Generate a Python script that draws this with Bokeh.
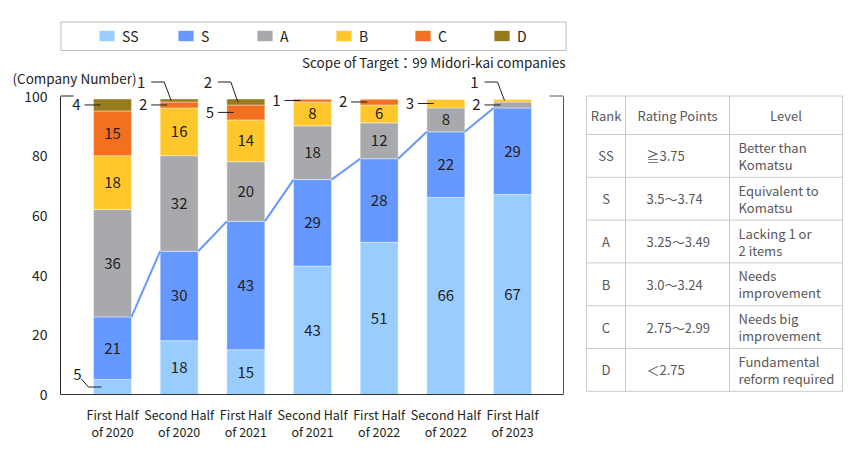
from bokeh.plotting import figure
from bokeh.models import (ColumnDataSource, Range1d, LinearAxis, FixedTicker,
                          Legend, LegendItem, Label, BoxAnnotation, GridBox)
from bokeh.layouts import column
from bokeh.embed import file_html
from bokeh.resources import INLINE
from bokeh.core.properties import value

# ---------------- data ----------------
periods = ["First Half\nof 2020", "Second Half\nof 2020", "First Half\nof 2021",
           "Second Half\nof 2021", "First Half\nof 2022", "Second Half\nof 2022",
           "First Half\nof 2023"]
ranks = ["SS", "S", "A", "B", "C", "D"]
ss_counts = [5, 18, 15, 43, 51, 66, 67]
s_counts = [21, 30, 43, 29, 28, 22, 29]
a_counts = [36, 32, 20, 18, 12, 8, 2]
b_counts = [18, 16, 14, 8, 6, 3, 1]
c_counts = [15, 2, 5, 1, 2, 0, 0]
d_counts = [4, 1, 2, 0, 0, 0, 0]
y_ticks = [0, 20, 40, 60, 80, 100]
axis_title = "(Company Number)"
scope_note = "Scope of Target：99 Midori-kai companies"

table_header = ["Rank", "Rating Points", "Level"]
table_points = ["≧3.75", "3.5～3.74", "3.25～3.49", "3.0～3.24", "2.75～2.99", "＜2.75"]
table_levels = [["Better than", "Komatsu"], ["Equivalent to", "Komatsu"],
                ["Lacking 1 or", "2 items"], ["Needs", "improvement"],
                ["Needs big", "improvement"], ["Fundamental", "reform required"]]

# small segments labelled outside the bar: (period index, rank, leader style)
callouts = [(0, "D", "side"), (0, "SS", "below"), (1, "C", "side"), (1, "D", "up"),
            (2, "C", "side"), (2, "D", "up"), (3, "C", "side"), (4, "C", "side"),
            (5, "B", "side"), (6, "A", "side"), (6, "B", "up")]

# ---------------- styles ----------------
FONT = "Noto Sans CJK JP"
TXT = "#231f20"
colors = ["#99CCFF", "#6699FF", "#A7A9AC", "#FFC72C", "#F37021", "#987A1E"]
LINK_COLOR = "#6699FF"

# geometry (page pixels)
FR_L, FR_R, FR_T, FR_B = 60, 563, 90, 394
C0, PITCH = 112, 66.667          # first bar centre, distance between bars
YS = 2.985                       # px per company
BAR_W = 38 / PITCH
X0 = -(C0 - FR_L) / PITCH
X1 = 6 + (FR_R - (C0 + 6 * PITCH)) / PITCH

def px2x(px):
    return X0 + (px - FR_L) / PITCH

def py2y(py):
    return (FR_B - py) / YS

def dxp(n):
    return n / PITCH

def dyp(n):
    return n / YS

P1_W, P1_H = 580, 445
n = len(periods)

# ---------------- main chart ----------------
p1 = figure(width=P1_W, height=P1_H, x_range=Range1d(X0, X1),
            y_range=Range1d(0, py2y(FR_T)),
            output_backend="svg", toolbar_location=None,
            x_axis_location=None, y_axis_location=None,
            min_border_left=FR_L, min_border_right=P1_W - FR_R,
            min_border_top=FR_T, min_border_bottom=P1_H - FR_B)
p1.outline_line_color = None
p1.grid.visible = False

src = ColumnDataSource(dict(x=list(range(n)), SS=ss_counts, S=s_counts,
                            A=a_counts, B=b_counts, C=c_counts, D=d_counts))
bars = p1.vbar_stack(ranks, x="x", width=BAR_W, color=colors, source=src,
                     line_color="white", line_width=0.6, line_alpha=0.7)

# axes
xaxis = LinearAxis(ticker=FixedTicker(ticks=list(range(n))),
                   major_label_overrides={i: t for i, t in enumerate(periods)})
xaxis.axis_line_color = "#333333"
xaxis.major_tick_line_color = None
xaxis.minor_tick_line_color = None
xaxis.major_label_standoff = 4
xaxis.major_label_text_font = FONT
xaxis.major_label_text_font_size = "12.5px"
xaxis.major_label_text_color = TXT
xaxis.major_label_text_line_height = 0.93
p1.add_layout(xaxis, "below")

yaxis = LinearAxis(ticker=FixedTicker(ticks=y_ticks), bounds=(0, 100))
yaxis.axis_line_color = "#231f20"
yaxis.major_tick_line_color = None
yaxis.minor_tick_line_color = None
yaxis.major_label_standoff = 7
yaxis.major_label_text_font = FONT
yaxis.major_label_text_font_size = "14px"
yaxis.major_label_text_color = TXT
p1.add_layout(yaxis, "left")

raxis = LinearAxis(ticker=FixedTicker(ticks=[]), bounds=(0, 100))
raxis.axis_line_color = "#555555"
raxis.major_tick_line_color = None
raxis.minor_tick_line_color = None
raxis.major_label_text_font_size = "0px"
p1.add_layout(raxis, "right")

# bracket tips at the top of the frame
p1.segment(x0=[X0, px2x(549)], y0=[100, 100], x1=[px2x(73), X1], y1=[100, 100],
           line_color=["#231f20", "#555555"], line_width=1)

# links between the tops of the S segments
cum_s = [a + b for a, b in zip(ss_counts, s_counts)]
p1.multi_line(xs=[[i + BAR_W / 2, i + 1 - BAR_W / 2] for i in range(n - 1)],
              ys=[[cum_s[i], cum_s[i + 1]] for i in range(n - 1)],
              line_color=LINK_COLOR, line_width=2)

# values inside segments
series = dict(zip(ranks, [ss_counts, s_counts, a_counts, b_counts, c_counts, d_counts]))
mids = {}
lx, ly, lt = [], [], []
for i in range(n):
    base = 0
    for r in ranks:
        v = series[r][i]
        mids[(i, r)] = base + v / 2
        if v >= 6:
            lx.append(i); ly.append(base + v / 2); lt.append(str(v))
        base += v
p1.text(lx, ly, text=lt, text_align="center", text_baseline="middle",
        text_font=value(FONT), text_font_size="15px", text_color=TXT)

# ---------------- transparent overlay (same scales, whole canvas) ----------------
p0 = figure(width=P1_W, height=P1_H, x_range=Range1d(px2x(0), px2x(P1_W)),
            y_range=Range1d(py2y(P1_H), py2y(0)), output_backend="svg",
            toolbar_location=None, x_axis_location=None, y_axis_location=None,
            min_border=0)
p0.outline_line_color = None
p0.grid.visible = False
p0.background_fill_alpha = 0
p0.border_fill_alpha = 0

# callouts for the small segments
cx, cy, ct, lxs, lys = [], [], [], [], []
up_y = py2y(81.5)
for i, r, style in callouts:
    left = i - BAR_W / 2
    m = mids[(i, r)]
    ct.append(str(series[r][i]))
    if style == "side":
        cx.append(left - dxp(17)); cy.append(m)
        lxs.append([left - dxp(9), left + dxp(7)]); lys.append([m, m])
    elif style == "up":
        cx.append(left - dxp(19)); cy.append(up_y)
        lxs.append([left - dxp(9), left + dxp(4), left + dxp(11)])
        lys.append([up_y, up_y, m])
    else:  # below
        cx.append(left - dxp(16)); cy.append(m + dyp(13))
        lxs.append([left - dxp(12), left - dxp(5), left + dxp(8)])
        lys.append([m + dyp(8), m, m])
p0.multi_line(xs=lxs, ys=lys, line_color=TXT, line_width=1)
p0.text(cx, cy, text=ct, text_align="center", text_baseline="middle",
        text_font=value(FONT), text_font_size="15px", text_color=TXT)

# titles / notes
p0.add_layout(Label(x=px2x(12), y=py2y(77), text=axis_title, text_align="left",
                    text_baseline="middle", text_font=FONT, text_font_size="13.5px",
                    text_color=TXT))
p0.add_layout(Label(x=px2x(565), y=py2y(61), text=scope_note, text_align="right",
                    text_baseline="middle", text_font=FONT, text_font_size="13.5px",
                    text_color=TXT))

# legend: swatch renderers lie far outside the canvas, they only give the legend its colours
off_x, off_y = px2x(-2000), py2y(3000)
swatches = [p0.vbar(x=[off_x], top=[off_y], bottom=[off_y - 1], width=BAR_W, color=c,
                    line_color=None) for c in colors]
p0.add_layout(BoxAnnotation(left=px2x(60.5), right=px2x(565.5), top=py2y(21.5),
                            bottom=py2y(50), fill_alpha=0, line_color="#231f20",
                            line_width=1))
legend = Legend(items=[LegendItem(label=r, renderers=[swatches[k]])
                       for k, r in enumerate(ranks)],
                orientation="horizontal", location=(97, P1_H - 45.5),
                border_line_color=None, background_fill_alpha=0, padding=0, margin=0,
                spacing=24, glyph_width=19, glyph_height=13, label_standoff=6,
                label_width=30, label_height=20, label_text_font=FONT,
                label_text_font_size="14px", label_text_color=TXT)
p0.add_layout(legend)

# ---------------- table ----------------
P2_X, P2_W = P1_W, 270
p2 = figure(width=P2_W, height=P1_H, x_range=Range1d(P2_X, P2_X + P2_W),
            y_range=Range1d(P1_H, 0), output_backend="svg",
            toolbar_location=None, x_axis_location=None, y_axis_location=None,
            min_border=0)
p2.outline_line_color = None
p2.grid.visible = False

T_L, T_R, T_TOP = 586, 842, 95.5
COLS = [T_L, 625, 729, T_R]
HEAD_H, ROW_H = 38.5, 42.8
rows_y = [T_TOP, T_TOP + HEAD_H] + [T_TOP + HEAD_H + ROW_H * (k + 1) for k in range(len(ranks))]
T_BOT = rows_y[-1]
GRID = "#c9caca"
p2.segment(x0=[T_L] * len(rows_y), x1=[T_R] * len(rows_y), y0=rows_y, y1=rows_y,
           line_color=GRID, line_width=1)
p2.segment(x0=COLS, x1=COLS, y0=[T_TOP] * 4, y1=[T_BOT] * 4, line_color=GRID, line_width=1)

TCOL = "#595757"
TSIZE = "13px"
head_y = (rows_y[0] + rows_y[1]) / 2
p2.text([(COLS[k] + COLS[k + 1]) / 2 for k in range(3)], [head_y] * 3, text=table_header,
        text_align="center", text_baseline="middle", text_font=value(FONT),
        text_font_size=TSIZE, text_color=TCOL)
row_mid = [(rows_y[k + 1] + rows_y[k + 2]) / 2 for k in range(len(ranks))]
p2.text([(COLS[0] + COLS[1]) / 2] * len(ranks), row_mid, text=ranks, text_align="center",
        text_baseline="middle", text_font=value(FONT), text_font_size=TSIZE, text_color=TCOL)
p2.text([COLS[1] + 21] * len(ranks), row_mid, text=table_points, text_align="left",
        text_baseline="middle", text_font=value(FONT), text_font_size=TSIZE, text_color=TCOL)
lev_x, lev_y, lev_t = [], [], []
for k, lines in enumerate(table_levels):
    for j, line in enumerate(lines):
        lev_x.append(COLS[2] + 9)
        lev_y.append(row_mid[k] + (j - (len(lines) - 1) / 2) * 17)
        lev_t.append(line)
p2.text(lev_x, lev_y, text=lev_t, text_align="left", text_baseline="middle",
        text_font=value(FONT), text_font_size=TSIZE, text_color=TCOL)

# chart and overlay share one grid cell (wrapped so their frames are not aligned);
# the table sits in the next column
layout = GridBox(children=[(column(p1), 0, 0), (column(p0), 0, 0), (column(p2), 0, 1)])
open("out.html", "w").write(file_html(layout, INLINE))
